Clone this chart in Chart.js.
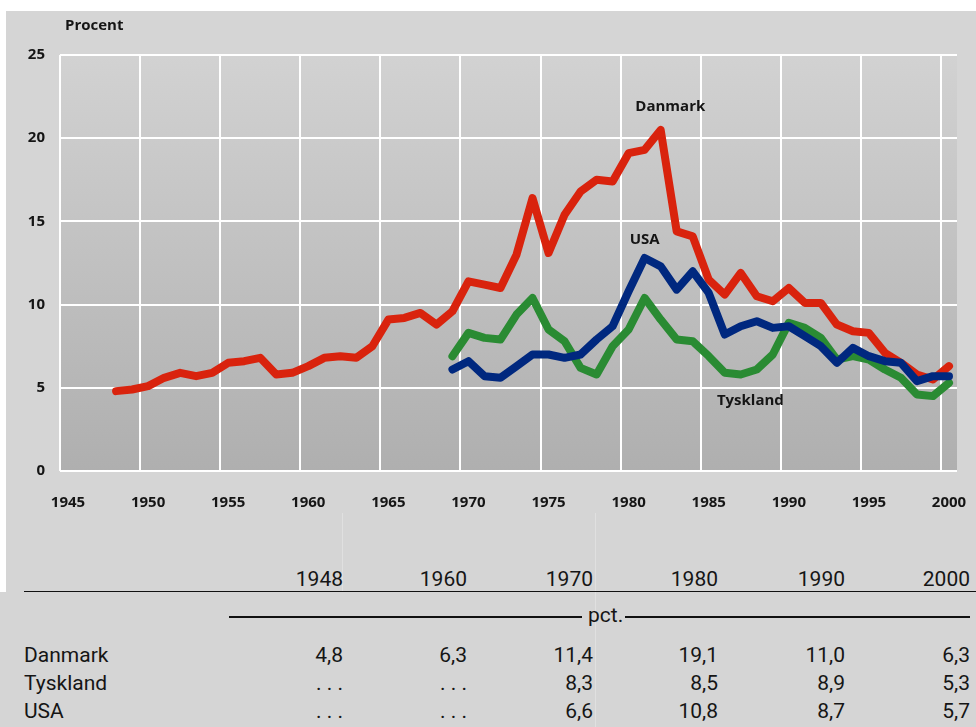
<!DOCTYPE html>
<html>
<head>
<meta charset="utf-8">
<title>Procent</title>
<script src="https://cdn.jsdelivr.net/npm/chart.js@4.4.1/dist/chart.umd.min.js"></script>
<style>
  body { margin: 0; background: #fff; width: 976px; height: 727px; overflow: hidden; }
  #panel { position: absolute; left: 6px; top: 11px; width: 970px; height: 716px; background: #d5d5d5; }
  #edge { position: absolute; left: 0; top: 592px; width: 6px; height: 135px; background: #d5d5d5; }
  #chart { position: absolute; left: 0; top: 0; }
  .cell { position: absolute; font-family: Roboto, "Liberation Sans", sans-serif; font-size: 21px;
          line-height: 28px; color: #151515; white-space: nowrap; }
  .num { width: 110px; text-align: right; }
  .rule { position: absolute; background: #111; }
  .seam { position: absolute; width: 1px; background: #e0e0e0; }
</style>
</head>
<body>
<div id="panel"><canvas id="chart" width="970" height="502"></canvas></div>
<div id="edge"></div>
<div id="table"></div>
<script>
// annual rates, Danmark from 1948, Tyskland and USA from 1969
var danmarkStart = 1948;
var danmark = [4.8, 4.9, 5.1, 5.6, 5.9, 5.7, 5.9, 6.5, 6.6, 6.8,
               5.8, 5.9, 6.3, 6.8, 6.9, 6.8, 7.5, 9.1, 9.2, 9.5,
               8.8, 9.6, 11.4, 11.2, 11.0, 13.0, 16.4, 13.1, 15.4, 16.8,
               17.5, 17.4, 19.1, 19.3, 20.5, 14.4, 14.1, 11.5, 10.6, 11.9,
               10.5, 10.2, 11.0, 10.1, 10.1, 8.8, 8.4, 8.3, 7.1, 6.5,
               5.8, 5.5, 6.3];
var tysklandStart = 1969;
var tyskland = [6.9, 8.3, 8.0, 7.9, 9.4, 10.4, 8.5, 7.8, 6.2, 5.8,
                7.5, 8.5, 10.4, 9.1, 7.9, 7.8, 6.9, 5.9, 5.8, 6.1,
                7.0, 8.9, 8.6, 8.0, 6.7, 6.9, 6.7, 6.1, 5.6, 4.6,
                4.5, 5.3];
var usaStart = 1969;
var usa = [6.1, 6.6, 5.7, 5.6, 6.3, 7.0, 7.0, 6.8, 7.0, 7.9,
           8.7, 10.8, 12.8, 12.3, 10.9, 12.0, 10.7, 8.2, 8.7, 9.0,
           8.6, 8.7, 8.1, 7.5, 6.5, 7.4, 6.9, 6.6, 6.5, 5.4,
           5.7, 5.7];
var xTicks = [1945, 1950, 1955, 1960, 1965, 1970, 1975, 1980, 1985, 1990, 1995, 2000];
var yTicks = [0, 5, 10, 15, 20, 25];
var tableYears = [1948, 1960, 1970, 1980, 1990, 2000];

var series = [
	{ label: 'Danmark', start: danmarkStart, values: danmark, color: '#d9230d', order: 2 },
	{ label: 'Tyskland', start: tysklandStart, values: tyskland, color: '#2a8b33', order: 1 },
	{ label: 'USA', start: usaStart, values: usa, color: '#00287f', order: 0 }
];

var boldFont = '"Open Sans", "DejaVu Sans", sans-serif';

// grey gradient behind the plot
var plotBackground = {
	id: 'plotBackground',
	beforeDraw: function (chart) {
		var a = chart.chartArea, ctx = chart.ctx;
		var g = ctx.createLinearGradient(0, a.top, 0, a.bottom);
		g.addColorStop(0, '#d2d2d2');
		g.addColorStop(1, '#afafaf');
		ctx.save();
		ctx.fillStyle = g;
		ctx.fillRect(a.left, a.top, a.right - a.left, a.bottom - a.top);
		ctx.restore();
	}
};

// axis title and series names written inside the plot
var chartTexts = {
	id: 'chartTexts',
	afterDatasetsDraw: function (chart) {
		var ctx = chart.ctx, xs = chart.scales.x, ys = chart.scales.y;
		ctx.save();
		ctx.fillStyle = '#151515';
		ctx.font = 'bold 15px ' + boldFont;
		ctx.textBaseline = 'middle';
		ctx.textAlign = 'left';
		ctx.fillText('Procent', 59, 15);
		ctx.textAlign = 'center';
		[['Danmark', 1983.1, 21.9], ['USA', 1981.5, 13.9], ['Tyskland', 1988.1, 4.25]].forEach(function (t) {
			ctx.fillText(t[0], xs.getPixelForValue(t[1]), ys.getPixelForValue(t[2]));
		});
		ctx.restore();
	}
};

var config = {
	type: 'line',
	data: {
		datasets: series.map(function (s) {
			return {
				label: s.label,
				// yearly figures sit in the middle of their year
				data: s.values.map(function (v, i) { return { x: s.start + i + 0.5, y: v }; }),
				borderColor: s.color,
				borderWidth: 8,
				borderJoinStyle: 'round',
				borderCapStyle: 'round',
				pointRadius: 0,
				fill: false,
				tension: 0,
				order: s.order
			};
		})
	},
	options: {
		responsive: false,
		animation: false,
		layout: { padding: { top: 44, right: 19, left: 0, bottom: 0 } },
		plugins: { legend: { display: false }, tooltip: { enabled: false } },
		scales: {
			x: {
				type: 'linear',
				min: 1945,
				max: 2001,
				afterBuildTicks: function (scale) {
					scale.ticks = xTicks.map(function (v) { return { value: v }; });
				},
				afterFit: function (scale) {
					scale.height = 42;
					scale.paddingLeft = 0;
					scale.paddingRight = 0;
				},
				ticks: {
					labelOffset: 8,
					padding: 23,
					maxRotation: 0,
					autoSkip: false,
					color: '#151515',
					font: { family: boldFont, size: 15, weight: 'bold' },
					callback: function (v) { return String(v); }
				},
				grid: { color: '#ffffff', lineWidth: 2, drawTicks: false },
				border: { display: false }
			},
			y: {
				min: yTicks[0],
				max: yTicks[yTicks.length - 1],
				afterBuildTicks: function (scale) {
					scale.ticks = yTicks.map(function (v) { return { value: v }; });
				},
				afterFit: function (scale) {
					scale.width = 54;
					scale.paddingTop = 0;
					scale.paddingBottom = 0;
				},
				ticks: {
					padding: 15,
					color: '#151515',
					font: { family: boldFont, size: 15, weight: 'bold' }
				},
				grid: { color: '#ffffff', lineWidth: 2, drawTicks: false },
				border: { display: false }
			}
		}
	},
	plugins: [plotBackground, chartTexts]
};

window.myChart = new Chart(document.getElementById('chart'), config);

// table of selected years under the chart
function valueFor(s, year) {
	var i = year - s.start;
	return (i >= 0 && i < s.values.length) ? s.values[i] : null;
}

var table = document.getElementById('table');
function addCell(text, left, baseline, cls) {
	var d = document.createElement('div');
	d.className = 'cell' + (cls ? ' ' + cls : '');
	d.textContent = text;
	d.style.left = left + 'px';
	d.style.top = (baseline - 21) + 'px';
	table.appendChild(d);
}
function addBox(cls, left, top, w, h) {
	var d = document.createElement('div');
	d.className = cls;
	d.style.left = left + 'px';
	d.style.top = top + 'px';
	d.style.width = w + 'px';
	d.style.height = h + 'px';
	table.appendChild(d);
}

var colRight = [343, 467, 593, 718, 845, 970];
addBox('seam', 342, 513, 1, 78);
addBox('seam', 595, 513, 1, 214);

tableYears.forEach(function (y, c) { addCell(String(y), colRight[c] - 110, 586, 'num'); });
addBox('rule', 24, 591, 952, 1);
addBox('rule', 229, 616, 353, 2);
addBox('rule', 625, 616, 345, 2);
addCell('pct.', 588, 622);

series.forEach(function (s, r) {
	var base = 662 + r * 28;
	addCell(s.label, 24, base);
	tableYears.forEach(function (y, c) {
		var v = valueFor(s, y);
		addCell(v === null ? '. . .' : v.toFixed(1).replace('.', ','), colRight[c] - 110, base, 'num');
	});
});
</script>
</body>
</html>
